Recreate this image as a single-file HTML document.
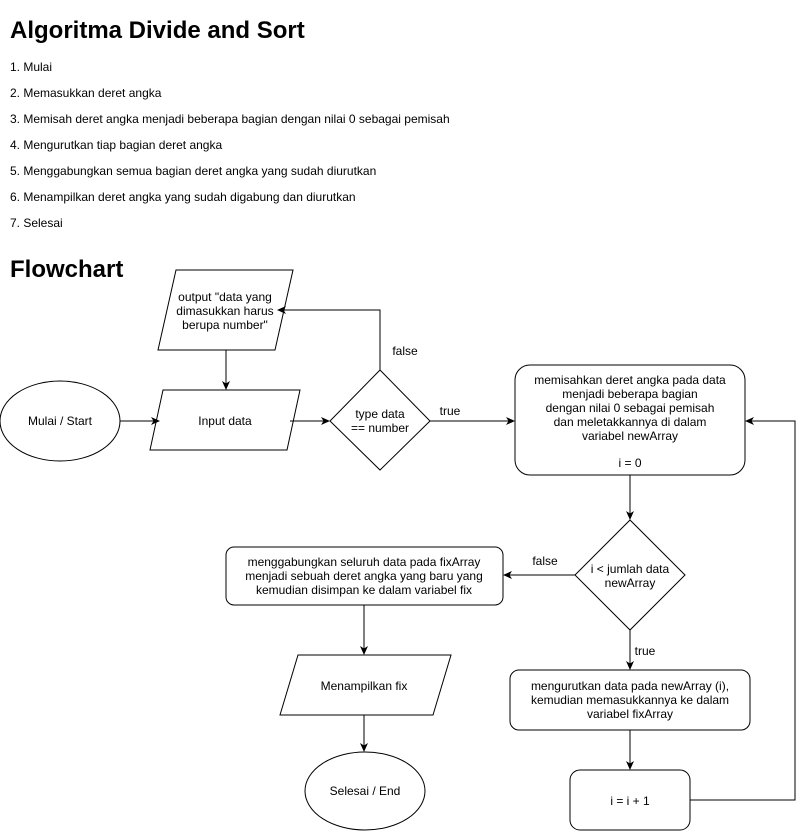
<!DOCTYPE html>
<html><head><meta charset="utf-8"><style>
body{margin:0;background:#fff;width:804px;height:831px;overflow:hidden}
svg{display:block;font-family:"Liberation Sans",Arial,sans-serif}
</style></head><body>
<svg width="804" height="831" viewBox="0 0 804 831" xmlns="http://www.w3.org/2000/svg">
<defs><marker id="a" markerWidth="10" markerHeight="10" refX="8" refY="5" orient="auto" markerUnits="userSpaceOnUse"><path d="M0,1 L9,5 L0,9 L2.5,5 Z" fill="#000"/></marker></defs>
<text x="10" y="38" font-size="24" font-weight="bold">Algoritma Divide and Sort</text>
<g font-size="12">
<text x="10" y="71">1. Mulai</text>
<text x="10" y="97">2. Memasukkan deret angka</text>
<text x="10" y="123">3. Memisah deret angka menjadi beberapa bagian dengan nilai 0 sebagai pemisah</text>
<text x="10" y="149">4. Mengurutkan tiap bagian deret angka</text>
<text x="10" y="175">5. Menggabungkan semua bagian deret angka yang sudah diurutkan</text>
<text x="10" y="201">6. Menampilkan deret angka yang sudah digabung dan diurutkan</text>
<text x="10" y="227">7. Selesai</text>
</g>
<text x="10" y="277" font-size="24" font-weight="bold">Flowchart</text>
<g fill="none" stroke="#000" stroke-width="1">
<polygon points="176,270 293,270 275,350 158,350" fill="#fff"/>
<polygon points="163,390 300,390 287,450 150,450" fill="#fff"/>
<ellipse cx="60" cy="421" rx="60" ry="40" fill="#fff"/>
<polygon points="380,370 430,421 380,470 330,421" fill="#fff"/>
<rect x="515" y="365" width="230" height="110" rx="15" fill="#fff"/>
<polygon points="630,520 685,575 630,630 575,575" fill="#fff"/>
<rect x="226" y="547" width="277" height="58" rx="8" fill="#fff"/>
<polygon points="298,655 451,655 433,715 280,715" fill="#fff"/>
<ellipse cx="365" cy="791" rx="60" ry="39" fill="#fff"/>
<rect x="510" y="670" width="240" height="60" rx="9" fill="#fff"/>
<rect x="570" y="770" width="120" height="60" rx="10" fill="#fff"/>
<line x1="226" y1="350" x2="226" y2="389" marker-end="url(#a)"/>
<line x1="120" y1="421" x2="159" y2="421" marker-end="url(#a)"/>
<line x1="290" y1="421" x2="329" y2="421" marker-end="url(#a)"/>
<polyline points="380,370 380,310 278,310" marker-end="url(#a)"/>
<line x1="430" y1="421" x2="514" y2="421" marker-end="url(#a)"/>
<line x1="630" y1="475" x2="630" y2="519" marker-end="url(#a)"/>
<line x1="575" y1="575" x2="504" y2="575" marker-end="url(#a)"/>
<line x1="364" y1="605" x2="364" y2="654" marker-end="url(#a)"/>
<line x1="364" y1="715" x2="364" y2="751" marker-end="url(#a)"/>
<line x1="630" y1="630" x2="630" y2="669" marker-end="url(#a)"/>
<line x1="630" y1="730" x2="630" y2="769" marker-end="url(#a)"/>
<polyline points="690,800 795,800 795,421 746,421" marker-end="url(#a)"/>
</g>
<g font-size="12" text-anchor="middle">
<text x="225" y="301">output "data yang</text>
<text x="225" y="315">dimasukkan harus</text>
<text x="225" y="329">berupa number"</text>
<text x="225" y="425">Input data</text>
<text x="60" y="425">Mulai / Start</text>
<text x="380" y="418">type data</text>
<text x="380" y="432">== number</text>
<text x="405" y="355">false</text>
<text x="450" y="415">true</text>
<text x="630" y="384">memisahkan deret angka pada data</text>
<text x="630" y="398">menjadi beberapa bagian</text>
<text x="630" y="412">dengan nilai 0 sebagai pemisah</text>
<text x="630" y="426">dan meletakkannya di dalam</text>
<text x="630" y="440">variabel newArray</text>
<text x="630" y="467">i = 0</text>
<text x="630" y="573">i &lt; jumlah data</text>
<text x="630" y="587">newArray</text>
<text x="545" y="565">false</text>
<text x="364" y="566">menggabungkan seluruh data pada fixArray</text>
<text x="364" y="580">menjadi sebuah deret angka yang baru yang</text>
<text x="364" y="594">kemudian disimpan ke dalam variabel fix</text>
<text x="364" y="690">Menampilkan fix</text>
<text x="365" y="795">Selesai / End</text>
<text x="645" y="655">true</text>
<text x="630" y="690">mengurutkan data pada newArray (i),</text>
<text x="630" y="704">kemudian memasukkannya ke dalam</text>
<text x="630" y="718">variabel fixArray</text>
<text x="630" y="805">i = i + 1</text>
</g>
</svg>
</body></html>
